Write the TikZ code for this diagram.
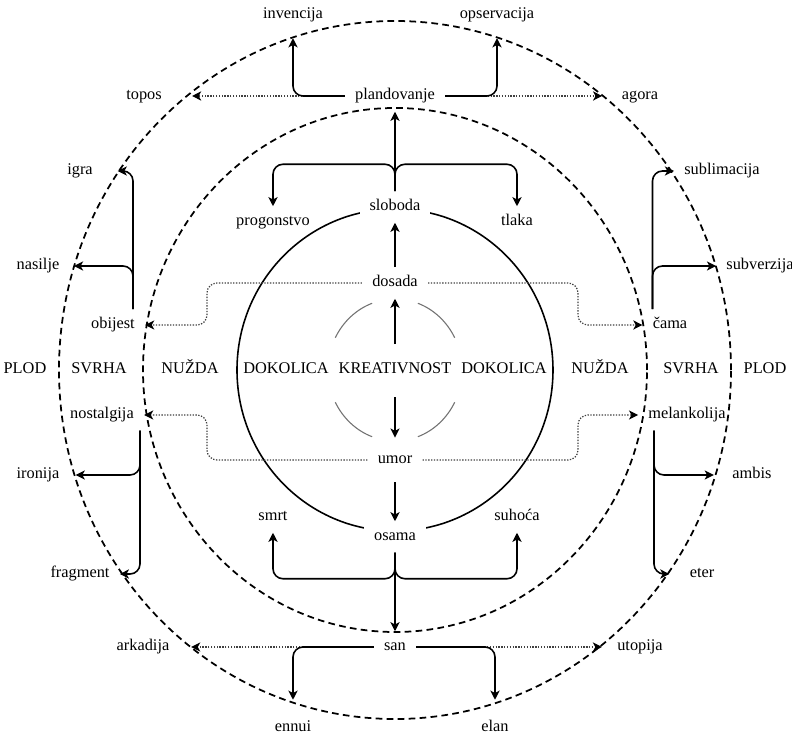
\documentclass[tikz,border=0pt]{standalone}
\usepackage{fontspec}
\setmainfont{Liberation Serif}
\usetikzlibrary{arrows.meta}
\begin{document}
\begin{tikzpicture}[
    x=0.6pt, y=0.6pt,
    font=\fontsize{9.8}{11}\selectfont,
    term/.style={inner xsep=6pt, inner ysep=5pt, text height=6.5pt, text depth=2pt},
    hole/.style={term, fill=white},
    link/.style={draw, line width=0.95pt, rounded corners=6pt,
        -{Stealth[length=5.5pt, width=5.5pt, inset=1.5pt]}},
    hint/.style={draw, black!75, line width=0.75pt, dash pattern=on 0.8pt off 0.9pt,
        rounded corners=6pt, -{Stealth[length=5.5pt, width=5.5pt, inset=1.5pt, color=black]}},
    ring/.style={draw, line width=1.05pt, dash pattern=on 4pt off 2.6pt},
    halo/.style={draw, black!55, line width=0.65pt}
]
\useasboundingbox (-395,-367) rectangle (397,370);

\draw[ring] (0,0) ellipse [x radius=336, y radius=349];
\draw[ring] (0,0) ellipse [x radius=252, y radius=262];
\draw[line width=0.95pt] (0,0) ellipse [x radius=158, y radius=161];
\foreach \a in {27,110,207,290}
    \draw[halo] ({67*cos(\a)},{71*sin(\a)}) arc [start angle=\a, delta angle=43,
        x radius=67, y radius=71];

\node (Kreativnost) [term] at (0,0) {KREATIVNOST};
\node (Dokolica01) [term] at (-109,0) {DOKOLICA};
\node (Dokolica02) [term] at (109,0) {DOKOLICA};
\node (Nuzda01) [term] at (-205,0) {NUŽDA};
\node (Nuzda02) [term] at (205,0) {NUŽDA};
\node (Svrha01) [term] at (-296,0) {SVRHA};
\node (Svrha02) [term] at (296,0) {SVRHA};
\node (Plod01) [term] at (-370,0) {PLOD};
\node (Plod02) [term] at (370,0) {PLOD};

\node (Dosada) [term] at (0,87) {dosada};
\node (Umor) [term] at (0,-90) {umor};
\node (Sloboda) [hole] at (0,163) {sloboda};
\node (Osama) [hole] at (0,-167) {osama};
\node (Plandovanje) [term] at (0,274) {plandovanje};
\node (San) [term] at (0,-277) {san};

\node (Progonstvo) [term] at (-122,148) {progonstvo};
\node (Tlaka) [term] at (122,148) {tlaka};
\node (Smrt) [term] at (-122,-147) {smrt};
\node (Suhoca) [term] at (122,-147) {suhoća};
\node (Invencija) [term] at (-102,355) {invencija};
\node (Opservacija) [term] at (102,355) {opservacija};
\node (Ennui) [term] at (-102,-358) {ennui};
\node (Elan) [term] at (100,-358) {elan};
\node (Topos) [term] at (-251,274) {topos};
\node (Agora) [term] at (245,274) {agora};
\node (Arkadija) [term] at (-252,-277) {arkadija};
\node (Utopija) [term] at (245,-277) {utopija};

\node (Igra) [term] at (-315,199) {igra};
\node (Nasilje) [term] at (-357,104) {nasilje};
\node (Obijest) [term] at (-282,45) {obijest};
\node (Nostalgija) [term] at (-293,-45) {nostalgija};
\node (Ironija) [term] at (-357,-105) {ironija};
\node (Fragment) [term] at (-315,-204) {fragment};
\node (Sublimacija) [term] at (327,199) {sublimacija};
\node (Subverzija) [term] at (365,104) {subverzija};
\node (Cama) [term] at (275,45) {čama};
\node (Melankolija) [term] at (292,-45) {melankolija};
\node (Ambis) [term] at (357,-105) {ambis};
\node (Eter) [term] at (307,-204) {eter};

\draw[hint, shorten >=12pt] (Plandovanje.west) -- (Topos.east);
\draw[hint, shorten >=5.6pt] (Plandovanje.east) -- (Agora.west);
\draw[hint, shorten >=6.9pt] (San.west) -- (Arkadija.east);
\draw[hint, shorten >=3pt] (San.east) -- (Utopija.west);
\draw[hint] (Dosada.west) -- (-188,87) |- (Obijest.east);
\draw[hint] (Dosada.east) -- (183,87) |- (Cama.west);
\draw[hint] (Umor.west) -- (-188,-90) |- (Nostalgija.east);
\draw[hint] (Umor.east) -- (183,-90) |- (Melankolija.west);

\draw[link, shorten <=6pt] (Kreativnost.north) -- (Dosada.south);
\draw[link, shorten <=7pt, shorten >=4pt] (Kreativnost.south) -- (Umor.north);
\draw[link] (Dosada.north) -- (Sloboda.south);
\draw[link, shorten <=4pt] (Umor.south) -- (Osama.north);
\draw[link] (Sloboda.north) -- (Plandovanje.south);
\draw[link] (Osama.south) -- (San.north);
\draw[link] (Sloboda.north) -- ++(0,27) -| (Progonstvo.north);
\draw[link] (Sloboda.north) -- ++(0,27) -| (Tlaka.north);
\draw[link] (Osama.south) -- ++(0,-26) -| (Smrt.south);
\draw[link] (Osama.south) -- ++(0,-26) -| (Suhoca.south);
\draw[link, shorten >=4.5pt] (Plandovanje.west) -| (Invencija.south);
\draw[link, shorten >=4.5pt] (Plandovanje.east) -| (Opservacija.south);
\draw[link, shorten >=7.5pt] (San.west) -| (Ennui.north);
\draw[link, shorten >=7.5pt] (San.east) -| (Elan.north);

\draw[link, shorten >=8.8pt] ([xshift=12pt]Obijest.north) |- (Igra.east);
\draw[link, shorten >=2.6pt] ([xshift=12pt]Obijest.north) |- (Nasilje.east);
\draw[link] ([xshift=-10.5pt]Cama.north) |- (Sublimacija.west);
\draw[link] ([xshift=-10.5pt]Cama.north) |- (Subverzija.west);
\draw[link] ([xshift=22.8pt]Nostalgija.south) |- (Fragment.east);
\draw[link, shorten >=3.6pt] ([xshift=22.8pt]Nostalgija.south) |- (Ironija.east);
\draw[link, shorten >=6pt] ([xshift=-19.8pt]Melankolija.south) |- (Eter.west);
\draw[link, shorten >=5pt] ([xshift=-19.8pt]Melankolija.south) |- (Ambis.west);
\end{tikzpicture}
\end{document}
